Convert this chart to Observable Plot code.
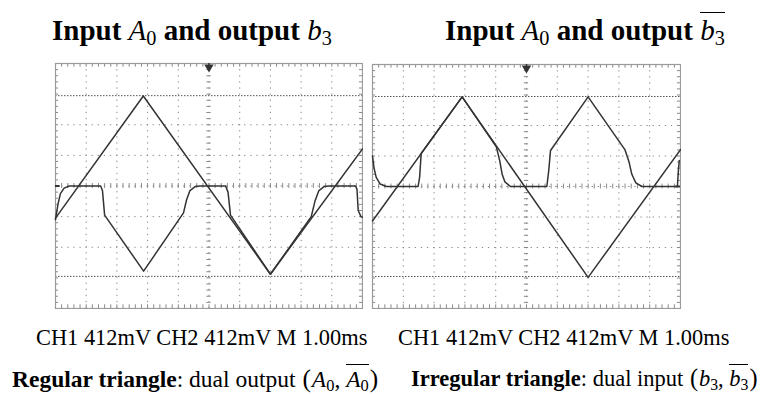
<!DOCTYPE html>
<html>
<head>
<meta charset="utf-8">
<script src="https://cdn.jsdelivr.net/npm/d3@7"></script>
<script src="https://cdn.jsdelivr.net/npm/@observablehq/plot@0.6"></script>
<style>
  html, body { margin: 0; padding: 0; background: #fff; }
  #wrap { position: relative; width: 769px; height: 395px; overflow: hidden; font-family: "Liberation Serif", "Times New Roman", serif; color: #000; }
  .t { position: absolute; white-space: nowrap; line-height: 1; }
  .title { font-weight: bold; font-size: 29px; }
  .cap { font-size: 22.4px; }
  .m { font-style: italic; font-weight: normal; }
  .sub { font-size: 0.7em; font-style: normal; position: relative; top: 0.25em; }
  .ov { border-top: 1.5px solid #000; padding-top: 1px; }
  .par { font-size: 1.08em; padding: 0 1px; }
  .panel { position: absolute; }
</style>
</head>
<body>
<div id="wrap">
  <div class="t title" style="left:52px; top:16px;">Input <span class="m">A<span class="sub">0</span></span> and output <span class="m">b<span class="sub">3</span></span></div>
  <div class="t title" style="left:445px; top:16px;">Input <span class="m">A<span class="sub">0</span></span> and output <span class="m ov">b<span class="sub">3</span></span></div>
  <div id="p1" class="panel" style="left:54px; top:62px;"></div>
  <div id="p2" class="panel" style="left:371px; top:63px;"></div>
  <div class="t cap" style="left:36px; top:327px;">CH1 412mV CH2 412mV M 1.00ms</div>
  <div class="t cap" style="left:398px; top:327px;">CH1 412mV CH2 412mV M 1.00ms</div>
  <div class="t" style="left:12px; top:366px; font-size:23.5px;"><b>Regular triangle</b>: dual output <span class="par">(</span><span class="m">A<span class="sub">0</span></span>, <span class="m ov">A<span class="sub">0</span></span><span class="par">)</span></div>
  <div class="t" style="left:411px; top:366px; font-size:22.5px;"><b>Irregular triangle</b>: dual input <span class="par">(</span><span class="m">b<span class="sub">3</span></span>, <span class="m ov">b<span class="sub">3</span></span><span class="par">)</span></div>
</div>
<script>
// ---- Data (divisions: x 0..10, y -4..4) ----
const triLeftX = [0, 2.86, 7.0, 10];
const triLeftY = [-1.05, 2.94, -2.88, 1.21];

const b3LeftX = [0, 0.08, 0.16, 0.28, 0.45, 1.47, 1.53, 1.6, 2.87, 4.17, 4.27, 4.38, 4.55, 4.7, 5.54, 5.62, 5.7, 7.0, 8.33, 8.45, 8.58, 8.75, 8.9, 9.77, 9.82, 9.86, 9.95, 10];
const b3LeftY = [-1.1, -0.6, -0.25, -0.07, 0, 0, -0.15, -0.95, -2.78, -0.88, -0.45, -0.15, -0.02, 0, 0, -0.2, -0.95, -2.88, -1.0, -0.5, -0.15, -0.02, 0, 0, -0.1, -0.8, -1.0, -1.02];

const triRightX = [0, 2.91, 7.0, 10];
const triRightY = [-1.13, 2.94, -2.98, 1.21];

const b3barRightX = [0, 0.05, 0.12, 0.25, 0.45, 1.48, 1.53, 1.58, 2.91, 4.02, 4.13, 4.21, 4.3, 4.48, 5.66, 5.72, 5.78, 7.0, 8.2, 8.33, 8.42, 8.55, 8.75, 9.9, 9.93, 9.96];
const b3barRightY = [1.0, 0.6, 0.3, 0.08, 0, 0, 0.3, 1.08, 2.94, 1.3, 0.85, 0.4, 0.15, 0, 0, 0.5, 1.18, 2.94, 1.2, 0.8, 0.4, 0.12, 0, 0, 0.5, 0.85];

const gridX = [1, 2, 3, 4, 6, 7, 8, 9];
const gridY = [-3, -2, -1, 1, 2, 3];
const cursorY = [2.95, -2.95];

function toPts(xs, ys) { return xs.map((x, i) => ({x, y: ys[i]})); }

function panel(tri, sig, w, h, markerSide) {
  const minor = d3.range(0, 10.001, 0.2);
  const minorY = d3.range(-4, 4.001, 0.2);
  const ink = "#333";
  const gridC = "#8a8a8a";
  return Plot.plot({
    width: w, height: h,
    marginTop: 1, marginBottom: 1, marginLeft: 1, marginRight: 1,
    x: {domain: [0, 10], axis: null},
    y: {domain: [-4, 4], axis: null},
    marks: [
      Plot.ruleX(gridX, {stroke: gridC, strokeDasharray: "1.3,4.8", strokeWidth: 1}),
      Plot.ruleY(gridY.filter(v => Math.abs(v) !== 3), {stroke: gridC, strokeDasharray: "1.3,4.8", strokeWidth: 1}),
      Plot.ruleY(cursorY, {stroke: "#555", strokeDasharray: "1.5,1.5", strokeWidth: 1}),
      // center axes with minor ticks
      Plot.ruleX([5], {stroke: gridC, strokeDasharray: "1.3,4.8"}),
      Plot.ruleY([0], {stroke: gridC, strokeDasharray: "1.3,4.8"}),
      Plot.ruleX(minor, {x: d => d, y1: -0.08, y2: 0.08, stroke: gridC}),
      Plot.ruleY(minorY, {y: d => d, x1: 4.93, x2: 5.07, stroke: gridC}),
      // border ticks
      Plot.ruleX(minor, {x: d => d, y1: 3.88, y2: 4, stroke: gridC}),
      Plot.ruleX(minor, {x: d => d, y1: -4, y2: -3.88, stroke: gridC}),
      Plot.ruleY(minorY, {y: d => d, x1: 0, x2: 0.1, stroke: gridC}),
      Plot.ruleY(minorY, {y: d => d, x1: 9.9, x2: 10, stroke: gridC}),
      Plot.frame({stroke: "#9a9a9a", strokeWidth: 1.2}),
      // traces
      Plot.line(tri, {x: "x", y: "y", stroke: ink, strokeWidth: 1.5}),
      Plot.line(sig, {x: "x", y: "y", stroke: ink, strokeWidth: 1.5}),
      // trigger marker
      Plot.dot([{x: 5, y: 3.88}], {x: "x", y: "y", symbol: "triangle", rotate: 180, r: 3.5, fill: ink}),
      Plot.ruleX([5], {y1: 3.8, y2: 4, stroke: ink, strokeWidth: 1.5}),
      // channel marker
      Plot.ruleY([0], {x1: markerSide === "left" ? 0 : 9.85, x2: markerSide === "left" ? 0.15 : 10, stroke: ink, strokeWidth: 2})
    ]
  });
}

document.getElementById("p1").append(panel(toPts(triLeftX, triLeftY), toPts(b3LeftX, b3LeftY), 309, 247, "left"));
document.getElementById("p2").append(panel(toPts(triRightX, triRightY), toPts(b3barRightX, b3barRightY), 310, 246, "right"));
</script>
</body>
</html>
